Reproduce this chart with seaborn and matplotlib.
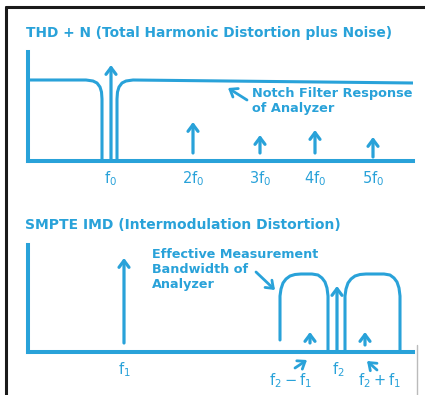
import matplotlib
matplotlib.use("Agg")
import matplotlib.pyplot as plt
import seaborn as sns
import pandas as pd

# ---------------- data ----------------
# THD + N panel (x in frequency units, y in amplitude units)
thd_labels = [r"$f_0$", r"$2f_0$", r"$3f_0$", r"$4f_0$", r"$5f_0$"]
thd_freq = [83, 165, 232, 287, 345]
thd_amp = [96, 39, 26, 31, 24]
thd_base = [0, 8, 8, 8, 4]
notch_x = [0, 58, 65, 69, 72, 73.5, 74, 74, 89, 89, 89.5, 91, 94, 98, 105, 385]
notch_y = [81, 81, 80, 78, 74, 69, 62, 0, 0, 62, 69, 74, 78, 80, 81, 78]

# SMPTE IMD panel
imd_freq = [96, 282, 309, 337]
imd_amp = [94, 20, 66, 20]
imd_base = [9, 9, 0, 7]
band1_x = [252, 252, 253, 255, 258, 262, 267, 273, 284, 290, 294, 297, 299, 300, 300]
band1_y = [12, 56, 63, 69, 73, 76, 77.5, 78, 78, 77, 74, 70, 64, 56, 0]
band2_x = [317, 317, 318, 320, 323, 327, 332, 338, 356, 362, 366, 369, 371, 372, 372]
band2_y = [0, 56, 63, 69, 73, 76, 77.5, 78, 78, 77, 74, 70, 64, 56, 0]

title_thd = "THD + N (Total Harmonic Distortion plus Noise)"
title_imd = "SMPTE IMD (Intermodulation Distortion)"
note_notch = "Notch Filter Response\nof Analyzer"
note_band = "Effective Measurement\nBandwidth of\nAnalyzer"

C = "#29a2d9"
W, H = 425, 395

sns.set_theme(style="white")
plt.rcParams["font.family"] = ["DejaVu Sans"]
plt.rcParams["mathtext.default"] = "regular"
plt.rcParams["mathtext.fontset"] = "dejavusans"

fig = plt.figure(figsize=(W / 100, H / 100), dpi=100)
fig.patch.set_facecolor("white")

# background (pixel) axes for frame and titles
bg = fig.add_axes([0, 0, 1, 1])
bg.set_xlim(0, W)
bg.set_ylim(H, 0)
bg.axis("off")
bg.plot([6, 6], [7, H], color="#1a1a1a", lw=2.2)
bg.plot([6, W], [7, 7], color="#1a1a1a", lw=2.2)
bg.plot([417, 417], [345, H], color="#bbbbbb", lw=1.0)
bg.text(26, 33, title_thd, color=C, fontsize=9.9, fontweight="bold",
        va="center", ha="left")
bg.text(25, 225, title_imd, color=C, fontsize=10, fontweight="bold",
        va="center", ha="left")


def make_ax(bottom_px, height_px):
    ax = fig.add_axes([28 / W, (H - bottom_px) / H, 385 / W, height_px / H])
    ax.set_xlim(0, 385)
    ax.set_ylim(0, height_px)
    ax.patch.set_alpha(0)
    for s in ["top", "right"]:
        ax.spines[s].set_visible(False)
    for s in ["left", "bottom"]:
        ax.spines[s].set_color(C)
        ax.spines[s].set_linewidth(2.9)
    ax.set_yticks([])
    ax.tick_params(axis="x", length=0, colors=C, labelsize=10.5, pad=6)
    return ax


def arrow(ax, x, y0, y1, lw=2.3):
    ax.annotate("", xy=(x, y1), xytext=(x, y0),
                arrowprops=dict(arrowstyle="->,head_length=0.4,head_width=0.3",
                                color=C, lw=lw, shrinkA=0, shrinkB=0))


# ---- top panel ----
ax1 = make_ax(161, 109)
sns.lineplot(x=notch_x, y=notch_y, sort=False, estimator=None, ax=ax1,
             color=C, lw=2.2)
for x, b, a in zip(thd_freq, thd_base, thd_amp):
    arrow(ax1, x, b, a)
ax1.set_xticks(thd_freq)
ax1.set_xticklabels(thd_labels)
ax1.text(224, 74, note_notch, color=C, fontsize=9.25, fontweight="bold",
         va="top", ha="left", linespacing=1.2)
ax1.annotate("", xy=(200, 73), xytext=(219, 61),
             arrowprops=dict(arrowstyle="->,head_length=0.4,head_width=0.3",
                             color=C, lw=2.0, shrinkA=0, shrinkB=0))

# ---- bottom panel ----
ax2 = make_ax(352, 107)
sns.lineplot(x=band1_x, y=band1_y, sort=False, estimator=None, ax=ax2,
             color=C, lw=2.2)
sns.lineplot(x=band2_x, y=band2_y, sort=False, estimator=None, ax=ax2,
             color=C, lw=2.2)
for x, b, a in zip(imd_freq, imd_base, imd_amp):
    arrow(ax2, x, b, a)
ax2.set_xticks([imd_freq[0]])
ax2.set_xticklabels([r"$f_1$"])
ax2.text(124, 104, note_band, color=C, fontsize=9.2, fontweight="bold",
         va="top", ha="left", linespacing=1.2)
ax2.annotate("", xy=(247, 62), xytext=(228, 80),
             arrowprops=dict(arrowstyle="->,head_length=0.4,head_width=0.3",
                             color=C, lw=2.0, shrinkA=0, shrinkB=0))
ax2.annotate("", xy=(279, -8), xytext=(267, -16), annotation_clip=False,
             arrowprops=dict(arrowstyle="->,head_length=0.4,head_width=0.3",
                             color=C, lw=2.0, shrinkA=0, shrinkB=0))
ax2.annotate("", xy=(339, -9), xytext=(349, -18), annotation_clip=False,
             arrowprops=dict(arrowstyle="->,head_length=0.4,head_width=0.3",
                             color=C, lw=2.0, shrinkA=0, shrinkB=0))
ax2.text(310, -18, r"$f_2$", color=C, fontsize=10.5, ha="center", va="center")
ax2.text(263, -29, r"$f_2 - f_1$", color=C, fontsize=10.5, ha="center",
         va="center")
ax2.text(352, -29, r"$f_2 + f_1$", color=C, fontsize=10.5, ha="center",
         va="center")

fig.savefig("out.png", dpi=100, facecolor="white")
